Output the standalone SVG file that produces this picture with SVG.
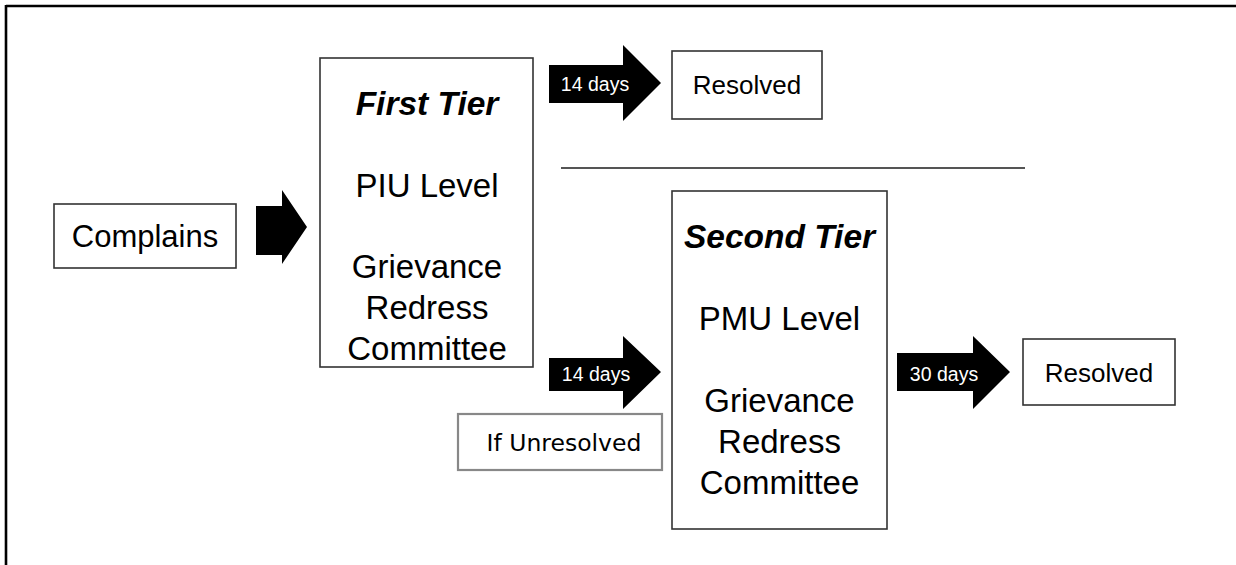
<svg xmlns="http://www.w3.org/2000/svg" width="1236" height="565" viewBox="0 0 1236 565">
<style>
.box{fill:#fff;stroke:#333;stroke-width:1.6}
.gbox{fill:#fff;stroke:#888;stroke-width:2.2}
.t{font-family:"Liberation Sans",Arial,sans-serif;fill:#000;text-anchor:middle}
.big{font-size:33px}
.bi{font-size:33.5px;font-weight:bold;font-style:italic}
.res{font-size:26px}
.lab{font-family:"Liberation Sans",Arial,sans-serif;font-size:19.5px;fill:#fff;text-anchor:middle}
.arrow{fill:#000}
</style>
<rect width="1236" height="565" fill="#fff"/>
<g id="frame">
<line x1="6" y1="6" x2="1236" y2="6" stroke="#000" stroke-width="2.6"/>
<line x1="6" y1="5" x2="6" y2="565" stroke="#000" stroke-width="2.6"/>
</g>
<g id="complains">
<rect class="box" x="54" y="204" width="182" height="64"/>
<text class="t" x="145" y="247" style="font-size:31px">Complains</text>
</g>
<g id="first-tier">
<rect class="box" x="320" y="58" width="213" height="309"/>
<text class="t bi" x="427" y="115">First Tier</text>
<text class="t big" x="427" y="197">PIU Level</text>
<text class="t big" x="427" y="278">Grievance</text>
<text class="t big" x="427" y="319">Redress</text>
<text class="t big" x="427" y="360">Committee</text>
</g>
<g id="resolved-1">
<rect class="box" x="672" y="51" width="150" height="68"/>
<text class="t res" x="747" y="94">Resolved</text>
</g>
<g id="second-tier">
<rect class="box" x="672" y="191" width="215" height="338"/>
<text class="t bi" x="779.5" y="248">Second Tier</text>
<text class="t big" x="779.5" y="330">PMU Level</text>
<text class="t big" x="779.5" y="412">Grievance</text>
<text class="t big" x="779.5" y="453">Redress</text>
<text class="t big" x="779.5" y="494">Committee</text>
</g>
<g id="resolved-2">
<rect class="box" x="1023" y="339" width="152" height="66"/>
<text class="t res" x="1099" y="382">Resolved</text>
</g>
<g id="unresolved">
<rect class="gbox" x="458" y="414" width="204" height="56"/>
<text x="564" y="451" style="font-family:'DejaVu Sans',Tahoma,sans-serif;font-size:23.5px;text-anchor:middle;fill:#000">If Unresolved</text>
</g>
<g id="connectors">
<polygon class="arrow" points="256,206 282,206 282,190 307,227 282,264 282,255 256,255"/>
<polygon class="arrow" points="549,65 623,65 623,45 661,83 623,121 623,103 549,103"/>
<text class="lab" x="595" y="91">14 days</text>
<polygon class="arrow" points="549,358 623,358 623,336 661,372 623,409 623,391 549,391"/>
<text class="lab" x="596" y="381">14 days</text>
<polygon class="arrow" points="897,353 973,353 973,336 1010,372 973,409 973,391 897,391"/>
<text class="lab" x="944" y="381">30 days</text>
<line x1="561" y1="168" x2="1025" y2="168" stroke="#555" stroke-width="2"/>
</g>
</svg>
